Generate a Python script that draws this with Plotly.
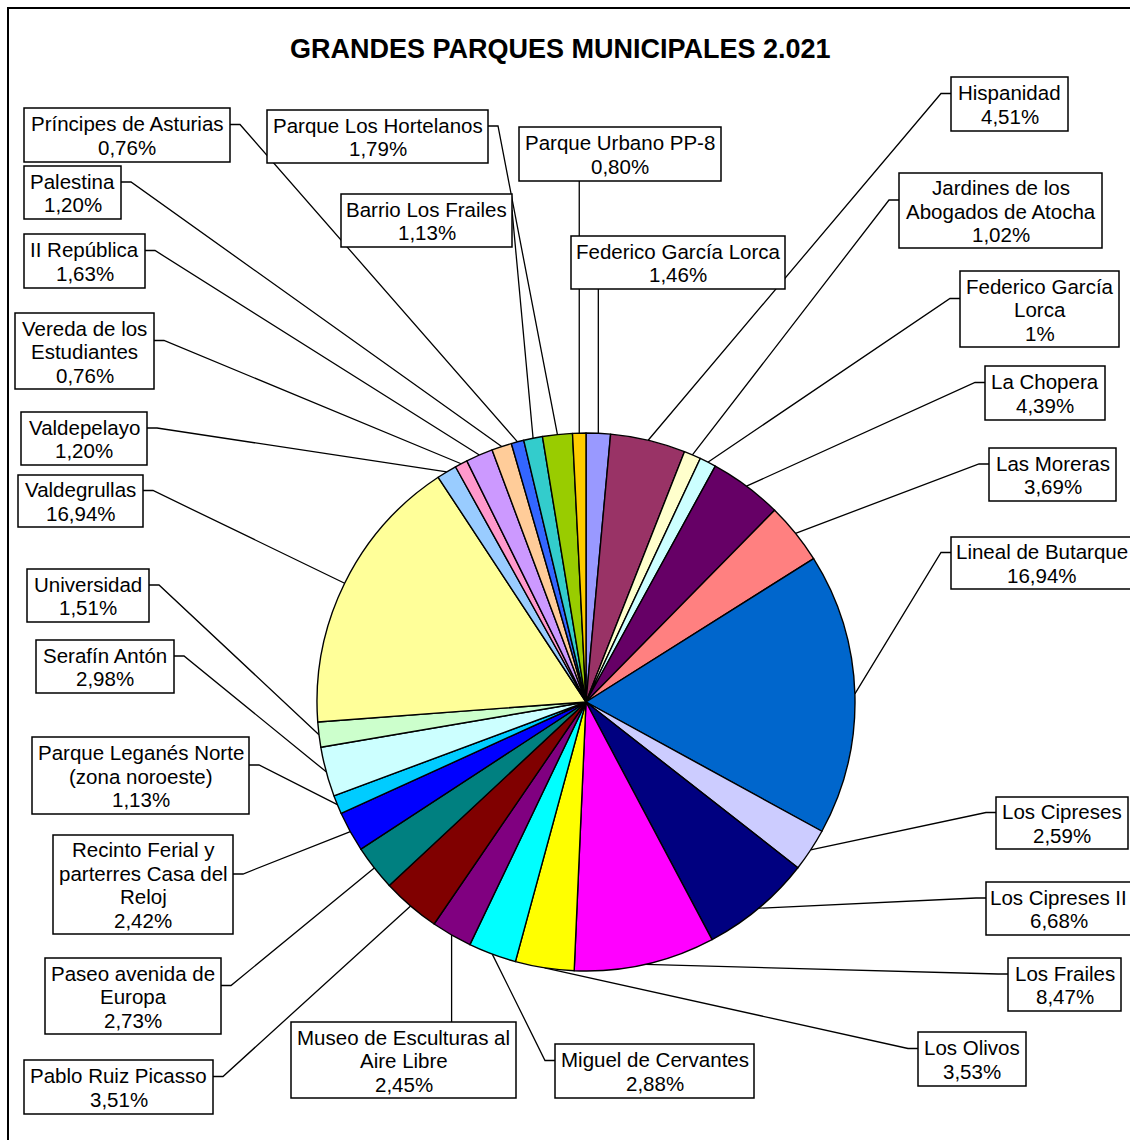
import math
import plotly.graph_objects as go

# ---------------- data ----------------
parks = [
    "Federico García Lorca", "Hispanidad", "Jardines de los\nAbogados de Atocha",
    "Federico García\nLorca", "La Chopera", "Las Moreras", "Lineal de Butarque",
    "Los Cipreses", "Los Cipreses II", "Los Frailes", "Los Olivos",
    "Miguel de Cervantes", "Museo de Esculturas al\nAire Libre", "Pablo Ruiz Picasso",
    "Paseo avenida de\nEuropa", "Recinto Ferial y\nparterres Casa del\nReloj",
    "Parque Leganés Norte\n(zona noroeste)", "Serafín Antón", "Universidad",
    "Valdegrullas", "Valdepelayo", "Vereda de los\nEstudiantes", "II República",
    "Palestina", "Príncipes de Asturias", "Barrio Los Frailes",
    "Parque Los Hortelanos", "Parque Urbano PP-8",
]
shares = [
    1.46, 4.51, 1.02, 1.00, 4.39, 3.69, 16.94, 2.59, 6.68, 8.47, 3.53, 2.88,
    2.45, 3.51, 2.73, 2.42, 1.13, 2.98, 1.51, 16.94, 1.20, 0.76, 1.63, 1.20,
    0.76, 1.13, 1.79, 0.80,
]
share_text = [
    "1,46%", "4,51%", "1,02%", "1%", "4,39%", "3,69%", "16,94%", "2,59%",
    "6,68%", "8,47%", "3,53%", "2,88%", "2,45%", "3,51%", "2,73%", "2,42%",
    "1,13%", "2,98%", "1,51%", "16,94%", "1,20%", "0,76%", "1,63%", "1,20%",
    "0,76%", "1,13%", "1,79%", "0,80%",
]
slice_colors = [
    "#9999FF", "#993366", "#FFFFCC", "#CCFFFF", "#660066", "#FF8080", "#0066CC",
    "#CCCCFF", "#000080", "#FF00FF", "#FFFF00", "#00FFFF", "#800080", "#800000",
    "#008080", "#0000FF", "#00CCFF", "#CCFFFF", "#CCFFCC", "#FFFF99", "#99CCFF",
    "#FF99CC", "#CC99FF", "#FFCC99", "#3366FF", "#33CCCC", "#99CC00", "#FFCC00",
]
title_text = "GRANDES PARQUES MUNICIPALES 2.021"

# ---------------- layout of the label boxes (page pixels) ----------------
label_boxes = [
    (571, 236, 785, 289), (951, 77, 1068, 131), (899, 173, 1102, 248),
    (960, 271, 1119, 347), (985, 366, 1105, 420), (989, 448, 1116, 501),
    (951, 537, 1132, 589), (996, 797, 1128, 849), (986, 882, 1131, 935),
    (1008, 958, 1121, 1011), (918, 1032, 1026, 1086), (555, 1044, 754, 1098),
    (291, 1022, 516, 1098), (24, 1060, 213, 1114), (45, 958, 221, 1034),
    (53, 835, 233, 934), (32, 737, 249, 814), (36, 640, 174, 693),
    (27, 569, 149, 622), (18, 475, 143, 527), (21, 412, 147, 465),
    (15, 313, 154, 389), (24, 234, 145, 288), (24, 166, 121, 219),
    (24, 108, 230, 162), (341, 194, 512, 247), (267, 110, 488, 163),
    (519, 127, 721, 181),
]
label_side = [
    "B", "L", "L", "L", "L", "L", "L", "L", "L", "L", "L", "L", "T", "R",
    "R", "R", "R", "R", "R", "R", "R", "R", "R", "R", "R", "R0", "R", "B",
]

OFF = 0            # page margin removed by post script
W, H = 1130, 1140  # figure size
CX, CY, RAD = 586, 702, 269   # pie centre / radius (page px)
LINE_GAP = 23.5
STUB = 10
FONT = "Arial, Liberation Sans, sans-serif"

fig = go.Figure()

fig.add_trace(go.Pie(
    values=shares, labels=[p.replace("\n", " ") + f" #{i}" for i, p in enumerate(parks)],
    marker=dict(colors=slice_colors, line=dict(color="black", width=1.4)),
    sort=False, direction="clockwise", rotation=0,
    textinfo="none", showlegend=False, hoverinfo="label+percent",
    domain=dict(x=[(CX - RAD - OFF) / W, (CX + RAD - OFF) / W],
                y=[1 - (CY + RAD - OFF) / H, 1 - (CY - RAD - OFF) / H]),
))

total = sum(shares)
lx, ly = [], []
shapes = []
annotations = []
cum = 0.0
for i, v in enumerate(shares):
    mid = (cum + v / 2) / total * 2 * math.pi
    cum += v
    px = CX + RAD * math.sin(mid)
    py = CY - RAD * math.cos(mid)
    x0, y0, x1, y1 = label_boxes[i]
    side = label_side[i]
    ay = (y0 + y1) / 2 - 10.5
    if side == "L":
        pts = [(x0, ay), (x0 - STUB, ay), (px, py)]
    elif side == "R":
        pts = [(x1, ay), (x1 + STUB, ay), (px, py)]
    elif side == "R0":
        pts = [(x1, ay), (px, py)]
    elif side == "B":
        pts = [(px, y1), (px, py)]
    else:
        pts = [(px, y0), (px, py)]
    for (a, b) in pts:
        lx.append(a)
        ly.append(b)
    lx.append(None)
    ly.append(None)

    shapes.append(dict(type="rect", xref="x", yref="y", x0=x0, x1=x1, y0=y0, y1=y1,
                       fillcolor="white", line=dict(color="black", width=1.5),
                       layer="above"))
    lines = parks[i].split("\n") + [share_text[i]]
    n = len(lines)
    yc = (y0 + y1) / 2
    for k, t in enumerate(lines):
        annotations.append(dict(
            x=(x0 + x1) / 2, y=yc + (k - (n - 1) / 2) * LINE_GAP + 0.5,
            xref="x", yref="y", text=t, showarrow=False,
            xanchor="center", yanchor="middle",
            font=dict(family=FONT, size=20.5, color="black"),
        ))

fig.add_trace(go.Scatter(x=lx, y=ly, mode="lines",
                         line=dict(color="black", width=1.3),
                         hoverinfo="skip", showlegend=False))

# chart frame (left and top edges visible)
shapes.append(dict(type="line", xref="x", yref="y", x0=8, x1=8, y0=7.5, y1=1140,
                   line=dict(color="black", width=2), layer="above"))
shapes.append(dict(type="line", xref="x", yref="y", x0=7, x1=1130, y0=8, y1=8,
                   line=dict(color="black", width=2), layer="above"))

annotations.append(dict(
    x=560.5, y=49, xref="x", yref="y", text=f"<b>{title_text}</b>",
    showarrow=False, xanchor="center", yanchor="middle",
    font=dict(family=FONT, size=27, color="black"),
))

fig.update_layout(
    width=W, height=H, margin=dict(l=0, r=0, t=0, b=0),
    paper_bgcolor="white", plot_bgcolor="white",
    xaxis=dict(range=[OFF, OFF + W], visible=False, fixedrange=True),
    yaxis=dict(range=[OFF + H, OFF], visible=False, fixedrange=True),
    shapes=shapes, annotations=annotations,
)

fig.write_html(
    "out.html",
    config={"displayModeBar": False},
    post_script=("document.body.style.margin='0px';"
                 "document.body.style.overflow='hidden';"
                 "document.documentElement.style.overflow='hidden';"),
)
